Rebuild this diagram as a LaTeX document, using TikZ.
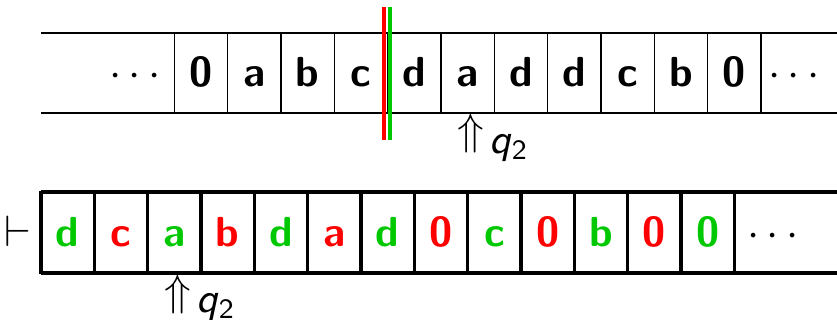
\documentclass[tikz,border=0pt]{standalone}
\usepackage{xcolor}
\definecolor{tred}{RGB}{255,0,0}
\definecolor{tgreen}{RGB}{0,200,0}
\begin{document}
\begin{tikzpicture}[x=0.25pt,y=-0.25pt,
  basefont/.style={font=\fontsize{10.5}{12}\selectfont},
  cellA/.style={draw=black, line width=0.35pt, minimum width=13.333pt, minimum height=20pt,
    inner sep=0pt, text height=0.7em, text depth=0pt, font=\fontsize{10.5}{12}\selectfont\sffamily\bfseries},
  cellB/.style={cellA, line width=0.8pt},
  dotsnode/.style={inner sep=0pt, text height=0.7em, text depth=0pt, basefont},
  thinline/.style={line width=0.35pt},
  thickline/.style={line width=0.8pt},
  marker/.style={line width=1pt},
  headarrow/.style={anchor=north, inner sep=0pt, basefont},
  statelabel/.style={anchor=base west, inner sep=0pt, font=\fontsize{10.5}{12}\selectfont\sffamily}
]
\useasboundingbox (0,0) rectangle (837,320);

% ---------- top tape ----------
\coordinate (tl1) at (41,33);  \coordinate (tr1) at (837,33);
\coordinate (tl2) at (41,113); \coordinate (tr2) at (837,113);
\draw[thinline] (tl1) -- (tr1);
\draw[thinline] (tl2) -- (tr2);
\foreach \t [count=\i from 0] in {0,a,b,c,d,a,d,d,c,b,0}
  \node[cellA] (t\i) at ({201+53.333*\i},73) {\t};
\node[dotsnode] (tdl) at (135,73) {$\cdots$};
\node[dotsnode] (tdr) at (794,73) {$\cdots$};

% red / green markers
\coordinate (rA) at (384,7);  \coordinate (rB) at (384,140);
\coordinate (gA) at (390,7);  \coordinate (gB) at (390,140);
\draw[marker, tred] (rA) -- (rB);
\draw[marker, tgreen] (gA) -- (gB);

% head of top tape
\node[headarrow] (u1) at ([xshift=0.8pt]t5.south) {$\Uparrow$};
\node[statelabel] (q1) at ([xshift=0.9pt,yshift=0.3pt]u1.south east) {\textit{q}$_{\mathsf{2}}$};

% ---------- bottom tape ----------
\node[dotsnode] (turn) at (18,232.5) {$\vdash$};
\coordinate (bl1) at (41,192);  \coordinate (br1) at (837,192);
\coordinate (bl2) at (41,273);  \coordinate (br2) at (837,273);
\draw[thickline] (bl1) -- (br1);
\draw[thickline] (bl2) -- (br2);
\foreach \t/\c [count=\i from 0] in {d/tgreen,c/tred,a/tgreen,b/tred,d/tgreen,a/tred,d/tgreen,0/tred,c/tgreen,0/tred,b/tgreen,0/tred,0/tgreen}
  \node[cellB, text=\c] (b\i) at ({67.67+53.333*\i},232.5) {\t};
\node[dotsnode] (bdr) at (773,232.5) {$\cdots$};

% head of bottom tape
\node[headarrow] (u2) at ([xshift=0.9pt]b2.south) {$\Uparrow$};
\node[statelabel] (q2) at ([xshift=0.9pt,yshift=0.6pt]u2.south east) {\textit{q}$_{\mathsf{2}}$};
\end{tikzpicture}
\end{document}
